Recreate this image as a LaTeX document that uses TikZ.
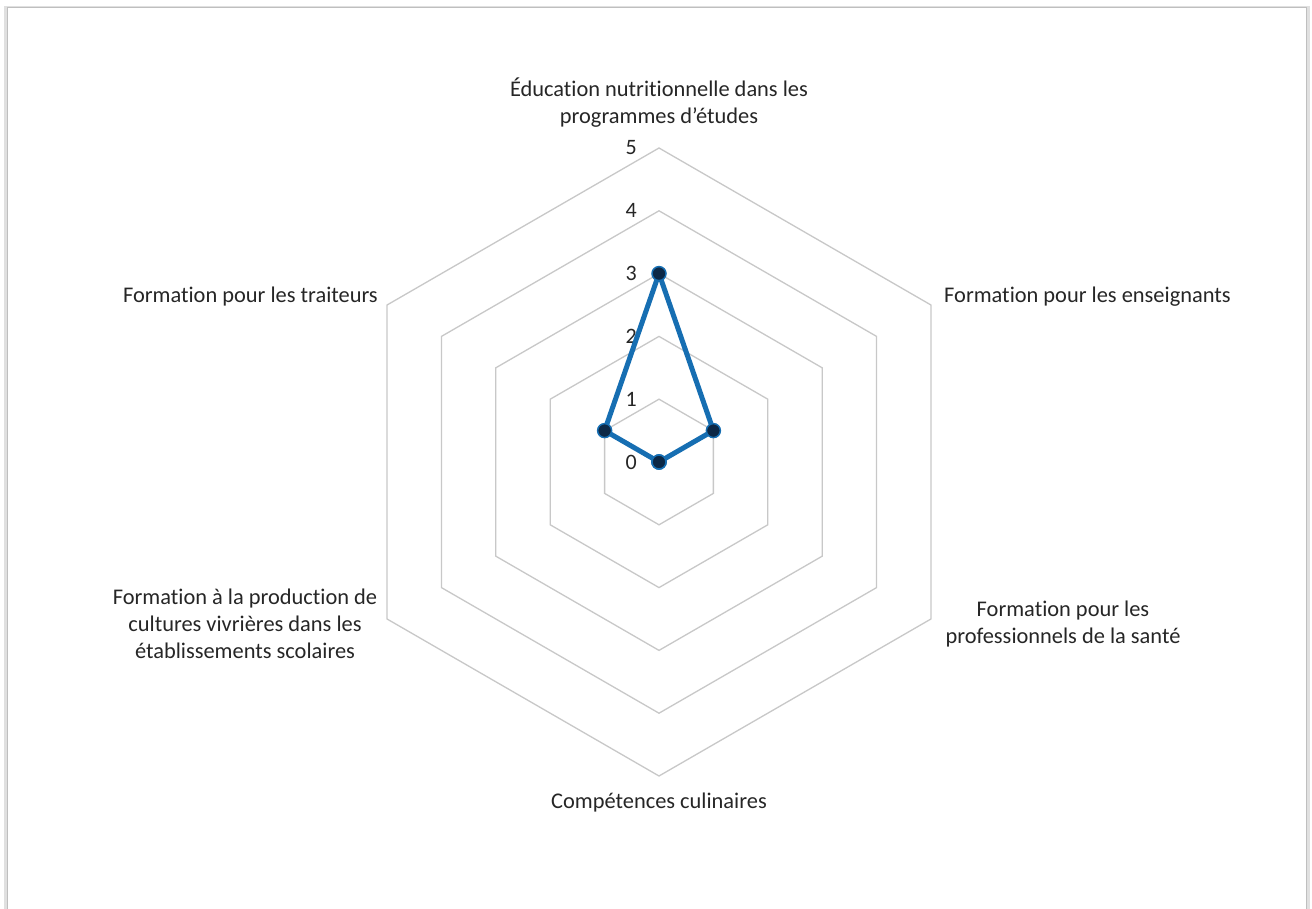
\documentclass[tikz,border=0pt]{standalone}
\usepackage{fontspec}
\setmainfont{Carlito}[Ligatures=NoCommon]
\usetikzlibrary{calc}

\definecolor{serieblue}{RGB}{22,110,178}
\definecolor{markfill}{RGB}{12,40,70}
\definecolor{gridgray}{RGB}{200,200,200}
\definecolor{txtgray}{RGB}{38,38,38}

\tikzset{
  grid/.style={draw=gridgray,line width=1.3pt,line join=miter},
  axislabel/.style={text=txtgray,font=\fontsize{22.4}{27}\selectfont,align=center,inner sep=0pt},
  ticklabel/.style={text=txtgray,font=\fontsize{22}{24}\selectfont,inner sep=0pt,anchor=east},
  serie/.style={draw=serieblue,line width=5pt,line join=round},
  dot/.style={circle,fill=markfill,draw=serieblue,line width=1.5pt,minimum size=14pt,inner sep=0pt}
}

\begin{document}
\begin{tikzpicture}[x=1pt,y=1pt]
  \useasboundingbox (0,0) rectangle (1312,908);
  % frame with shadow
  \fill[black!12] (4,-4) rectangle (1310,902);
  \draw[black!25,fill=white,line width=1pt] (7,-4) rectangle (1306,900);

  \coordinate (c) at (659,446);

  % hexagonal grid
  \foreach \r in {1,...,5}
    \draw[grid,shift={(c)}] (90:\r*62.8) -- (30:\r*62.8) -- (-30:\r*62.8)
      -- (-90:\r*62.8) -- (-150:\r*62.8) -- (150:\r*62.8) -- cycle;

  % scale
  \foreach \r in {0,...,5}
    \node[ticklabel] (tick\r) at ($(c)+(-22,\r*62.8)$) {\r};

  % axis labels
  \node[axislabel] (educ) at (659,805.5) {Éducation nutritionnelle dans les\\programmes d’études};
  \node[axislabel,anchor=west] (ens) at (944,611) {Formation pour les enseignants};
  \node[axislabel] (sante) at (1063,284) {Formation pour les\\professionnels de la santé};
  \node[axislabel] (culin) at (659,105) {Compétences culinaires};
  \node[axislabel] (cult) at (245,284) {Formation à la production de\\cultures vivrières dans les\\établissements scolaires};
  \node[axislabel,anchor=east] (trait) at (378,611) {Formation pour les traiteurs};

  % data
  \coordinate (p1) at ($(c)+(90:3*62.8)$);
  \coordinate (p2) at ($(c)+(30:62.8)$);
  \coordinate (p3) at (c);
  \coordinate (p4) at (c);
  \coordinate (p5) at (c);
  \coordinate (p6) at ($(c)+(150:62.8)$);
  \draw[serie] (p1) -- (p2) -- (p3) -- (p4) -- (p5) -- (p6) -- cycle;
  \foreach \i in {1,...,6}
    \node[dot] (d\i) at (p\i) {};
\end{tikzpicture}
\end{document}
